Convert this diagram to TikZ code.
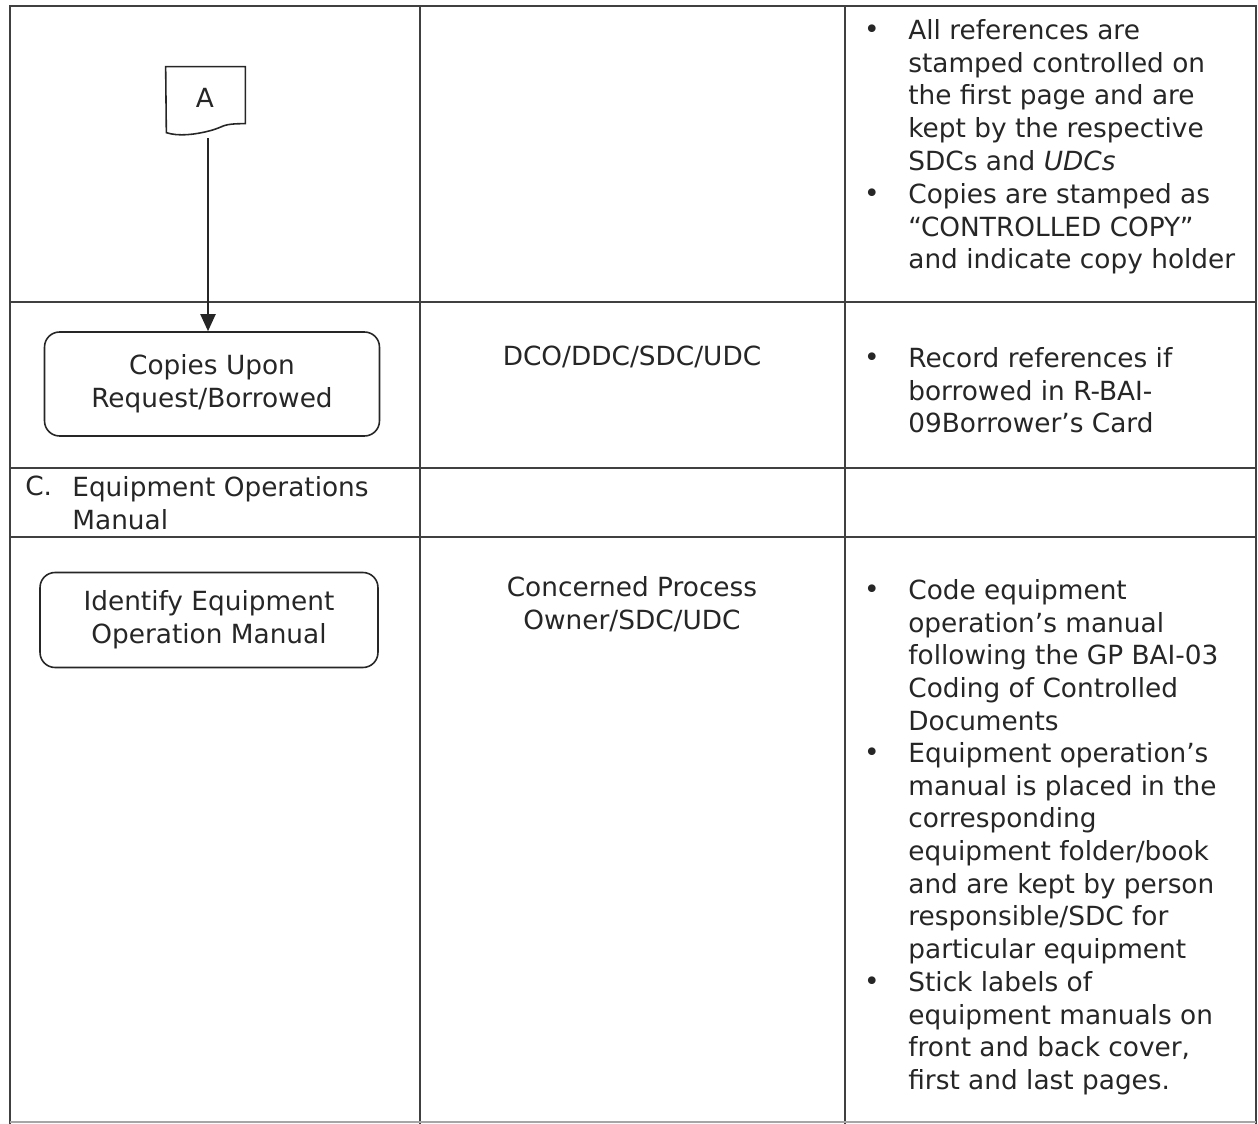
\documentclass[tikz,border=0pt]{standalone}
\usepackage{fontspec}
\setmainfont{DejaVu Sans}
\usetikzlibrary{arrows.meta}

\begin{document}
\begin{tikzpicture}[x=0.02cm, y=-0.02cm,
  every node/.style={font=\fontsize{15}{18.6}\selectfont, text=black!85},
  grid/.style={draw=black!75, line width=0.9pt},
  proc/.style={draw=black!85, line width=0.9pt, rounded corners=0.3cm, align=center},
  item/.style={anchor=north west, align=left, inner sep=0pt},
  dot/.style={inner sep=0pt},
  flow/.style={draw=black!85, line width=1.1pt, -{Triangle[length=0.34cm, width=0.3cm]}}]
\useasboundingbox (0,0) rectangle (1258,1124);

% table
\draw[grid] (10,1124) -- (10,6) -- (1256,6) -- (1256,1124);
\draw[grid] (420,6) -- (420,1124);
\draw[grid] (845,6) -- (845,1124);
\draw[grid] (10,302) -- (1256,302);
\draw[grid] (10,468) -- (1256,468);
\draw[grid] (10,537) -- (1256,537);
\draw[draw=black!35, line width=0.6pt] (10,1122) -- (1256,1122);

% first column
\node[minimum width=1.58cm, minimum height=1.42cm, inner sep=0pt] (docA) at (205.5,102.5) {};
\node at (205,98) {A};
\draw[draw=black!85, line width=0.9pt] (docA.north west) -- (docA.north east) -- ++(0,57)
  .. controls +(-25,0) and +(15,-4) .. ++(-35,7)
  .. controls +(-15,4) and +(12,4) .. ++(-44,2) -- cycle;

\node[proc, minimum width=6.7cm, minimum height=2.08cm] (copies) at (212,384) {Copies Upon\\Request/Borrowed};
\node[proc, minimum width=6.76cm, minimum height=1.9cm] (identify) at (209,620) {Identify Equipment\\Operation Manual};

\draw[flow] ([xshift=0.05cm]docA.south) -- ([xshift=0.05cm]docA.south |- copies.north);

\node[item] (secC) at (25,476) {C.};
\node[item] (rowC) at (72,476) {Equipment Operations\\Manual};

% second column
\node[align=center] (dco) at (632,357) {DCO/DDC/SDC/UDC};
\node[align=center] (concerned) at (632,604) {Concerned Process\\Owner/SDC/UDC};

% third column
\node[item] (refA) at (908,19) {All references are\\stamped controlled on\\the first page and are\\kept by the respective\\SDCs and \textit{UDCs}};
\node[item] (refB) at (908,183) {Copies are stamped as\\“CONTROLLED COPY”\\and indicate copy holder};
\node[item] (record) at (908,347) {Record references if\\borrowed in R-BAI-\\09Borrower’s Card};
\node[item] (code) at (908,579) {Code equipment\\operation’s manual\\following the GP BAI-03\\Coding of Controlled\\Documents};
\node[item] (place) at (908,742) {Equipment operation’s\\manual is placed in the\\corresponding\\equipment folder/book\\and are kept by person\\responsible/SDC for\\particular equipment};
\node[item] (stick) at (908,971) {Stick labels of\\equipment manuals on\\front and back cover,\\first and last pages.};

\node[dot] (b1) at (872,32) {\textbullet};
\node[dot] (b2) at (872,196) {\textbullet};
\node[dot] (b3) at (872,360) {\textbullet};
\node[dot] (b4) at (872,592) {\textbullet};
\node[dot] (b5) at (872,755) {\textbullet};
\node[dot] (b6) at (872,984) {\textbullet};

\end{tikzpicture}
\end{document}
